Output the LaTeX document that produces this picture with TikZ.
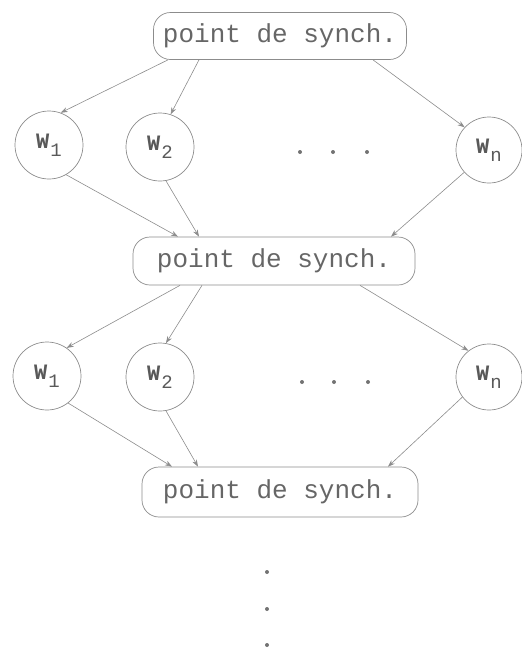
\documentclass[tikz,border=0pt]{standalone}
\usepackage{fontspec}
\setmonofont{Liberation Mono}
\usetikzlibrary{arrows.meta}
\newcommand\wlab[1]{{\fontsize{22}{24}\selectfont\bfseries W}\hspace{1pt}\raisebox{-8pt}{\fontsize{19}{20}\selectfont #1}}
\tikzset{
  synch/.style={draw=black!45, line width=0.7pt, rounded corners=17pt, inner sep=0pt,
    text=black!60, font=\ttfamily\fontsize{26}{30}\selectfont},
  proc/.style={draw=black!45, line width=0.7pt, circle, inner sep=0pt, minimum size=68pt,
    text=black!65, font=\ttfamily},
  arr/.style={draw=black!45, line width=0.6pt, -{Stealth[length=7pt,width=5pt]}},
  dotn/.style={circle, fill=black!55, inner sep=0pt, minimum size=4pt}
}
\begin{document}
\begin{tikzpicture}[x=1pt,y=-1pt]
\useasboundingbox (0,0) rectangle (522,649);
% top synchronisation point
\node[synch, minimum width=253pt, minimum height=47pt] (top) at (280,36) {point de synch.};
% first row of workers
\node[proc] (w1a) at (49,145) {\wlab{1}};
\node[proc] (w2a) at (160,147) {\wlab{2}};
\node[proc, minimum size=66pt] (wna) at (489,150) {\wlab{n}};
\node[dotn] (d1a) at (300,152) {};
\node[dotn] (d2a) at (333,152) {};
\node[dotn] (d3a) at (367,152) {};
% middle synchronisation point
\node[synch, minimum width=282pt, minimum height=48pt] (mid) at (274,261) {point de synch.};
% second row of workers
\node[proc] (w1b) at (47,376) {\wlab{1}};
\node[proc] (w2b) at (160,377) {\wlab{2}};
\node[proc, minimum size=66pt] (wnb) at (489,377) {\wlab{n}};
\node[dotn] (d1b) at (302,382) {};
\node[dotn] (d2b) at (334,382) {};
\node[dotn] (d3b) at (368,382) {};
% bottom synchronisation point
\node[synch, minimum width=276pt, minimum height=50pt] (bot) at (280,492) {point de synch.};
% vertical dots
\node[dotn] (v1) at (267,572) {};
\node[dotn] (v2) at (267,609) {};
\node[dotn] (v3) at (267,645) {};
% arrows: top -> row 1
\draw[arr] ([xshift=-112pt]top.south) -- (w1a.70);
\draw[arr] ([xshift=-81pt]top.south) -- (w2a.72);
\draw[arr] ([xshift=93pt]top.south) -- (wna.137);
% row 1 -> middle
\draw[arr] (w1a.-60) -- ([xshift=-96pt]mid.north);
\draw[arr] (w2a.-80) -- ([xshift=-75pt]mid.north);
\draw[arr] (wna.222) -- ([xshift=117pt]mid.north);
% middle -> row 2
\draw[arr] ([xshift=-94pt]mid.south) -- (w1b.55);
\draw[arr] ([xshift=-72pt]mid.south) -- (w2b.80);
\draw[arr] ([xshift=86pt]mid.south) -- (wnb.128);
% row 2 -> bottom
\draw[arr] (w1b.-52) -- ([xshift=-108pt]bot.north);
\draw[arr] (w2b.-80) -- ([xshift=-82pt]bot.north);
\draw[arr] (wnb.217) -- ([xshift=108pt]bot.north);
\end{tikzpicture}
\end{document}
